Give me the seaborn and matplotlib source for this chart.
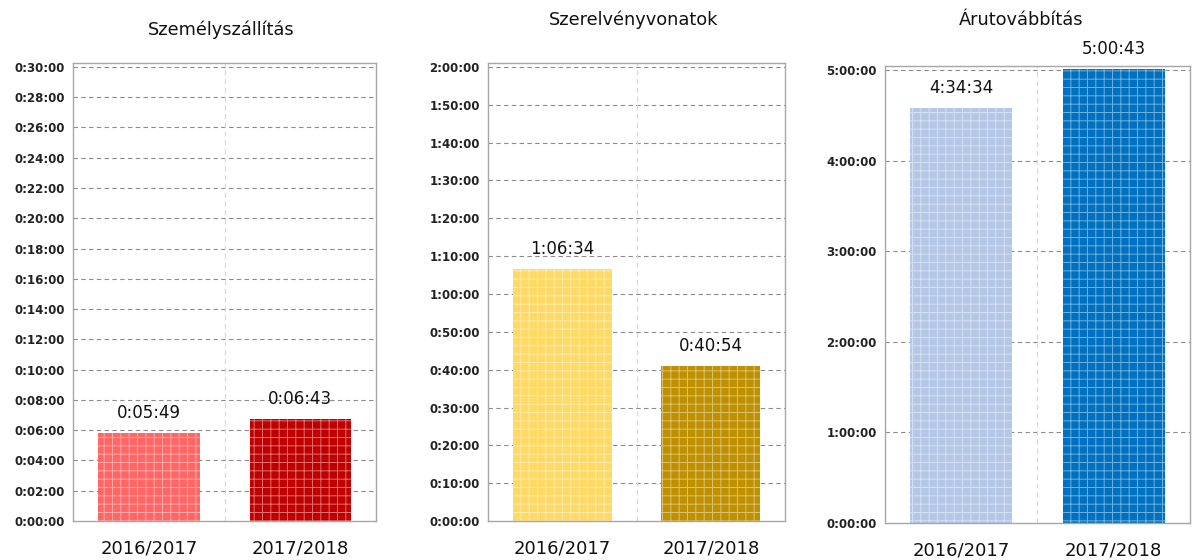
import matplotlib
matplotlib.use("Agg")
import matplotlib.pyplot as plt
import seaborn as sns
import pandas as pd

# data (seconds)
years = ["2016/2017", "2017/2018"]
titles = ["Személyszállítás", "Szerelvényvonatok", "Árutovábbítás"]
szemely = [349, 403]          # 0:05:49, 0:06:43
szerelveny = [3994, 2454]     # 1:06:34, 0:40:54
aru = [16474, 18043]          # 4:34:34, 5:00:43

colors = [["#FF6666", "#C00000"], ["#FFD966", "#BF9000"], ["#B4C7E7", "#0070C0"]]
tick_steps = [120, 600, 3600]
tick_max = [1800, 7200, 18000]


def hms(sec):
    sec = int(round(sec))
    return f"{sec // 3600}:{(sec % 3600) // 60:02d}:{sec % 60:02d}"


sns.set_style("white")
plt.rcParams["font.family"] = ["DejaVu Sans"]
plt.rcParams["hatch.color"] = (1, 1, 1, 0.45)
plt.rcParams["hatch.linewidth"] = 0.7

fig = plt.figure(figsize=(11.95, 5.6), dpi=100)
# axes boxes in figure fractions: [left, bottom, width, height]
boxes = [[0.0611, 0.0696, 0.2536, 0.818],
         [0.4084, 0.0696, 0.2485, 0.818],
         [0.7406, 0.0660, 0.2552, 0.816]]
title_x = [0.49, 0.49, 0.445]
title_y = [1.072, 1.095, 1.10]

for i, vals in enumerate([szemely, szerelveny, aru]):
    ax = fig.add_axes(boxes[i])
    df = pd.DataFrame({"ev": years, "ido": vals})
    sns.barplot(data=df, x="ev", y="ido", hue="ev", palette=colors[i],
                ax=ax, legend=False, width=0.67, saturation=1)
    for p in ax.patches:
        p.set_hatch("++")
        p.set_edgecolor((1, 1, 1, 0.45))
        p.set_linewidth(0)

    top = tick_max[i] * 458 / 454
    ax.set_ylim(0, top)
    ax.set_xlim(-0.5, 1.5)
    yt = list(range(0, tick_max[i] + 1, tick_steps[i]))
    ax.set_yticks(yt)
    ax.set_yticklabels([hms(v) for v in yt], fontsize=8.5, fontweight="bold",
                       color="#222222")
    ax.set_xticks([0, 1])
    ax.set_xticklabels(years, fontsize=13, color="#111111")
    ax.tick_params(axis="both", length=0, pad=6)
    ax.tick_params(axis="x", pad=13)

    for y in yt[1:]:
        ax.axhline(y, color="#8C8C8C", lw=0.8, ls=(0, (4, 3)), zorder=0)
    ax.axvline(0.5, color="#D9D9D9", lw=0.9, ls=(0, (4, 3)), zorder=0)

    for j, v in enumerate(vals):
        ax.annotate(hms(v), (j, min(v, top)), xytext=(0, 8),
                    textcoords="offset points", ha="center", va="bottom",
                    fontsize=12, color="#111111")

    for s in ax.spines.values():
        s.set_visible(True)
        s.set_color("#A6A6A6")
        s.set_linewidth(1)

    ax.set_xlabel("")
    ax.set_ylabel("")
    ax.text(title_x[i], title_y[i], titles[i], transform=ax.transAxes,
            ha="center", va="center", fontsize=12.8, color="#111111")

fig.savefig("out.png", dpi=100)
